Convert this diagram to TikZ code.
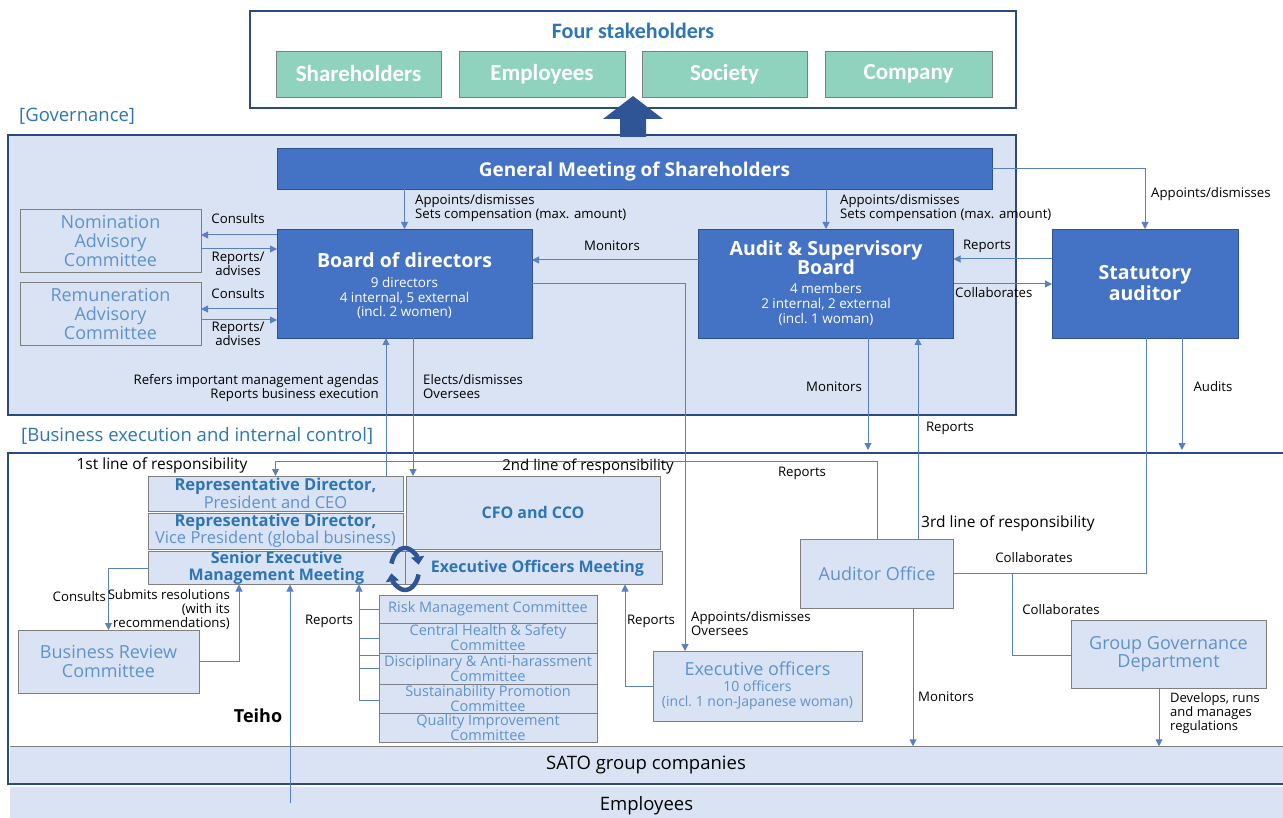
\documentclass[tikz,border=0pt]{standalone}
\usepackage{fontspec}
\setmainfont{Open Sans}
\newfontfamily\calib{Carlito}
\usetikzlibrary{arrows.meta,calc}
\definecolor{navyc}{HTML}{2B4A7E}
\definecolor{mainblue}{HTML}{4472C4}
\definecolor{bordc}{HTML}{2F528F}
\definecolor{lightbg}{HTML}{DAE3F3}
\definecolor{linec}{HTML}{5B80C0}
\definecolor{titleblue}{HTML}{2E75B6}
\definecolor{ltext}{HTML}{5F92CC}
\definecolor{tealc}{HTML}{8FD3BF}
\definecolor{grayc}{HTML}{7F7F7F}
\definecolor{cycc}{HTML}{2F5597}
\newcommand\myfs[2]{\fontsize{#1}{#2}\selectfont\lineskiplimit=-30pt\relax}
\newcommand\bb[1]{{\bfseries\color{titleblue}#1}}
\newcommand\bw[1]{{\bfseries\myfs{19.5}{21}#1}}
\begin{document}
\begin{tikzpicture}[x=1pt,y=-1pt,
  navybox/.style={draw=navyc,line width=2.5pt,inner sep=0pt,outer sep=0pt},
  bluebox/.style={draw=bordc,fill=mainblue,line width=0.8pt,text=white,align=center,inner sep=0pt,outer sep=0pt,font=\myfs{13.5}{14.5}},
  lightbox/.style={draw=grayc,fill=lightbg,line width=0.8pt,text=ltext,align=center,inner sep=0pt,outer sep=0pt},
  tealbox/.style={draw=grayc,fill=tealc,line width=0.8pt,text=white,font=\calib\bfseries\myfs{23}{25},inner sep=0pt,outer sep=0pt,minimum height=46pt},
  conn/.style={draw=linec,line width=1pt},
  arr/.style={conn,-{Triangle[length=7pt,width=7pt]}},
  lab/.style={font=\myfs{13.2}{14},inner sep=0pt,align=center,text=black},
  cycstyle/.style={draw=cycc,line width=4.5pt,-{Triangle[length=8pt,width=13pt]}}
]
\fill[white] (0,0) rectangle (1283,818);
\useasboundingbox (0,0) rectangle (1283,818);

% ---------- stakeholders ----------
\node[navybox,fill=white,minimum width=766pt,minimum height=97pt] (stk) at (633,59.5) {};
\node[font=\calib\bfseries\myfs{22}{24},text=titleblue,inner sep=0pt] (stkt) at (633,31) {Four stakeholders};
\node[tealbox,minimum width=165pt] (sh) at (358.5,74) {Shareholders};
\node[tealbox,minimum width=166pt] (emp) at (542,74) {Employees};
\node[tealbox,minimum width=165pt] (soc) at (724.5,74) {Society};
\node[tealbox,minimum width=167pt] (com) at (908.5,74) {Company};

% ---------- governance ----------
\node[navybox,fill=lightbg,minimum width=1008pt,minimum height=280pt] (gov) at (512,275) {};
\fill[cycc] (620,137) -- (620,119) -- (603,119) -- (633,96) -- (663,119) -- (646,119) -- (646,137) -- cycle;
\node[anchor=west,text=titleblue,font=\myfs{18.5}{20},inner sep=0pt] (govl) at (19,116) {[Governance]};
\node[anchor=west,text=titleblue,font=\myfs{18.5}{20},inner sep=0pt] (bexl) at (21,436) {[Business execution and internal control]};

\node[bluebox,minimum width=715pt,minimum height=41pt,font=\bfseries\myfs{19}{21}] (gm) at (634.5,168.5) {\rule{0pt}{20pt}General Meeting of Shareholders};
\node[bluebox,minimum width=255pt,minimum height=109pt] (bod) at (404.5,283.5)
  {\bw{\rule{0pt}{20pt}Board of directors}\\[5.5pt]9 directors\\4 internal, 5 external\\(incl.\ 2 women)};
\node[bluebox,minimum width=255pt,minimum height=109pt,font=\myfs{13.5}{15}] (asb) at (826,283.5)
  {\bw{Audit \& Supervisory}\\[4pt]\bw{Board}\\[4pt]4 members\\2 internal, 2 external\\(incl.\ 1 woman)};
\node[bluebox,minimum width=186pt,minimum height=109pt,font=\bfseries\myfs{19.5}{21}] (sa) at (1145,283.5) {Statutory\\auditor};
\node[lightbox,minimum width=181pt,minimum height=63pt,font=\myfs{18}{19}] (nac) at (110.5,240.5) {Nomination\\Advisory\\Committee};
\node[lightbox,minimum width=181pt,minimum height=63pt,font=\myfs{18}{19}] (rac) at (110.5,313.5) {Remuneration\\Advisory\\Committee};

% ---------- business execution ----------
\node[inner sep=0pt,outer sep=0pt,fill=white,minimum width=1292pt,minimum height=331pt] (bex) at (654,618.5) {};
\node[inner sep=0pt,outer sep=0pt,fill=lightbg,minimum width=1290pt,minimum height=37pt] (sato) at (655,764.75) {};
\node[inner sep=0pt,font=\myfs{18.5}{20}] (satot) at (646,765) {SATO group companies};
\draw[grayc,line width=0.8pt] (sato.north west) -- (sato.north east);
\node[navybox,minimum width=1292pt,minimum height=331pt] (bexf) at (654,618.5) {};
\node[inner sep=0pt,outer sep=0pt,fill=lightbg,minimum width=1273pt,minimum height=38pt,font=\myfs{18.5}{20}] (empb) at (646.5,806) {Employees};

\node[lightbox,minimum width=255pt,minimum height=35pt,font=\myfs{16.5}{18}] (ceo) at (275.5,493.5) {\bb{Representative Director,}\\President and CEO};
\node[lightbox,minimum width=255pt,minimum height=36pt,font=\myfs{16.5}{17}] (vp) at (275.5,531) {\bb{Representative Director,}\\Vice President (global business)};
\node[lightbox,minimum width=257pt,minimum height=33pt,font=\myfs{16}{17}] (semm) at (276.5,568) {\bb{Senior Executive}\\\bb{Management Meeting}};
\node[lightbox,minimum width=254pt,minimum height=73pt,font=\myfs{16}{18}] (cfo) at (533,512.5) {\bb{CFO and CCO}};
\node[lightbox,minimum width=257pt,minimum height=33pt,font=\myfs{16}{18}] (eom) at (533.5,568) {\hspace*{8pt}\bb{Executive Officers Meeting}};

\node[lightbox,minimum width=181pt,minimum height=63pt,font=\myfs{18}{19}] (brc) at (108.5,661.5) {Business Review\\Committee};

\node[lightbox,minimum width=218pt,minimum height=28pt,font=\myfs{14.5}{15}] (risk) at (488,609) {Risk Management Committee};
\node[lightbox,minimum width=218pt,minimum height=30pt,font=\myfs{14.5}{15}] (chs) at (488,638) {Central Health \& Safety\\Committee};
\node[lightbox,minimum width=218pt,minimum height=31pt,font=\myfs{14.5}{15}] (dis) at (488,668.5) {Disciplinary \& Anti-harassment\\Committee};
\node[lightbox,minimum width=218pt,minimum height=29pt,font=\myfs{14.5}{15}] (sus) at (488,698.5) {Sustainability Promotion\\Committee};
\node[lightbox,minimum width=218pt,minimum height=29pt,font=\myfs{14.5}{15}] (qua) at (488,727.5) {Quality Improvement\\Committee};

\node[lightbox,minimum width=209pt,minimum height=70pt,font=\myfs{14}{15}] (exo) at (757.5,686) {{\myfs{18}{19}Executive officers}\\[1pt]10 officers\\(incl.\ 1 non-Japanese woman)};
\node[lightbox,minimum width=153pt,minimum height=69pt,font=\myfs{18}{20}] (ao) at (877,573.5) {Auditor Office};
\node[lightbox,minimum width=195pt,minimum height=68pt,font=\myfs{18}{18.5}] (ggd) at (1168.5,654) {Group Governance\\Department};

% cycle icon
\coordinate (cyc) at (405,569);
\draw[cycstyle] ([shift={(165:14pt and 21pt)}]cyc) arc[start angle=165,end angle=12,x radius=14pt,y radius=21pt];
\draw[cycstyle] ([shift={(-15:14pt and 21pt)}]cyc) arc[start angle=-15,end angle=-168,x radius=14pt,y radius=21pt];

% ---------- helper coordinates ----------
\coordinate (h235) at (0,235);
\coordinate (h249) at (0,249);
\coordinate (h309) at (0,309);
\coordinate (h320) at (0,320);
\coordinate (h260) at (0,260);
\coordinate (h259) at (0,259);
\coordinate (h284) at (0,284);
\coordinate (h450) at (0,450);
\coordinate (h461) at (0,461);
\coordinate (h655) at (0,655);
\coordinate (h700) at (0,700);
\coordinate (v685) at (685,0);
\coordinate (v386) at (386,0);
\coordinate (v413) at (413,0);
\coordinate (v868) at (868,0);
\coordinate (v918) at (918,0);
\coordinate (v1182) at (1182,0);
\coordinate (v1146) at (1146,0);
\coordinate (v1012) at (1012,0);
\coordinate (v1159) at (1159,0);
\coordinate (v913) at (913,0);
\coordinate (v239) at (239,0);
\coordinate (v359) at (359,0);
\coordinate (v625) at (625,0);
\coordinate (empfoot) at (290,803);

% ---------- connectors ----------
\draw[arr] (gm.south -| bod.north) -- (bod.north);
\draw[arr] (gm.south -| asb.north) -- (asb.north);
\draw[arr] (gm.east) -- (gm.east -| sa.north) -- (sa.north);
\draw[arr] (bod.west |- h235) -- (nac.east |- h235);
\draw[arr] (nac.east |- h249) -- (bod.west |- h249);
\draw[arr] (bod.west |- h309) -- (rac.east |- h309);
\draw[arr] (rac.east |- h320) -- (bod.west |- h320);
\draw[arr] (asb.west |- h260) -- (bod.east |- h260);
\draw[arr] (sa.west |- h259) -- (asb.east |- h259);
\draw[arr] (asb.east |- h284) -- (sa.west |- h284);
\draw[arr] (bod.east |- h284) -- (v685 |- h284) -- (v685 |- exo.north);
\draw[arr] (v386 |- ceo.north) -- (v386 |- bod.south);
\draw[arr] (v413 |- bod.south) -- (v413 |- cfo.north);
\draw[arr] (v868 |- asb.south) -- (v868 |- h450);
\draw[arr] (v918 |- ao.north) -- (v918 |- asb.south);
\draw[arr] (v1182 |- sa.south) -- (v1182 |- h450);
\draw[conn] (ao.east) -- (v1146 |- ao.east) -- (v1146 |- sa.south);
\draw[conn] (v1012 |- ao.east) -- (v1012 |- h655) -- (ggd.west |- h655);
\draw[arr] (v1159 |- ggd.south) -- (v1159 |- sato.north);
\draw[arr] (v913 |- ao.south) -- (v913 |- sato.north);
\draw[arr] (ao.north) -- (ao.north |- h461) -- (ceo.north |- h461) -- (ceo.north);
\draw[arr] (semm.west) -- (brc.north |- semm.west) -- (brc.north);
\draw[arr] (brc.east) -- (v239 |- brc.east) -- (v239 |- semm.south);
\draw[arr] (empfoot) -- (empfoot |- semm.south);
\draw[arr] (v359 |- h700) -- (v359 |- semm.south);
\draw[conn] (v359 |- risk.west) -- (risk.west);
\draw[conn] (v359 |- chs.west) -- (chs.west);
\draw[conn] (v359 |- h655) -- (chs.west |- h655);
\draw[conn] (v359 |- dis.west) -- (dis.west);
\draw[conn] (v359 |- h700) -- (sus.west |- h700);
\draw[arr] (exo.west) -- (v625 |- exo.west) -- (v625 |- eom.south);

% ---------- labels ----------
\node[lab] (l1) at (238,219) {Consults};
\node[lab] (l2) at (238,264) {Reports/\\advises};
\node[lab] (l3) at (238,294) {Consults};
\node[lab] (l4) at (238,334) {Reports/\\advises};
\node[lab,anchor=west,align=left] (l5) at (415,208) {Appoints/dismisses\\Sets compensation (max. amount)};
\node[lab,anchor=west,align=left] (l6) at (840,208) {Appoints/dismisses\\Sets compensation (max. amount)};
\node[lab,anchor=west] (l7) at (1151,194) {Appoints/dismisses};
\node[lab] (l8) at (612,246) {Monitors};
\node[lab] (l9) at (987,246) {Reports};
\node[lab,anchor=west] (l10) at (955,293) {Collaborates};
\node[lab,anchor=east,align=right] (l11) at (379,388) {Refers important management agendas\\Reports business execution};
\node[lab,anchor=west,align=left] (l12) at (423,387) {Elects/dismisses\\Oversees};
\node[lab] (l13) at (834,387) {Monitors};
\node[lab] (l14) at (1213,387) {Audits};
\node[lab] (l15) at (950,428) {Reports};
\node[lab,font=\myfs{15.5}{17}] (l16) at (162,465) {1st line of responsibility};
\node[lab,font=\myfs{15}{17}] (l17) at (588,467) {2nd line of responsibility};
\node[lab] (l18) at (802,473) {Reports};
\node[lab,font=\myfs{15.5}{17},anchor=west] (l19) at (921,523) {3rd line of responsibility};
\node[lab] (l20) at (1034,558) {Collaborates};
\node[lab] (l21) at (1061,610) {Collaborates};
\node[lab,anchor=east] (l22) at (106,597) {Consults};
\node[lab,anchor=east,align=right] (l23) at (230,610) {Submits resolutions\\(with its\\recommendations)};
\node[lab] (l24) at (329,621) {Reports};
\node[lab] (l25) at (651,621) {Reports};
\node[lab,anchor=west,align=left] (l26) at (691,624) {Appoints/dismisses\\Oversees};
\node[lab] (l27) at (946,697) {Monitors};
\node[lab,anchor=west,align=left,font=\myfs{13}{14}] (l28) at (1170,713) {Develops, runs\\and manages\\regulations};
\node[lab,font=\bfseries\myfs{18}{19}] (l29) at (258,716) {Teiho};
\end{tikzpicture}
\end{document}
